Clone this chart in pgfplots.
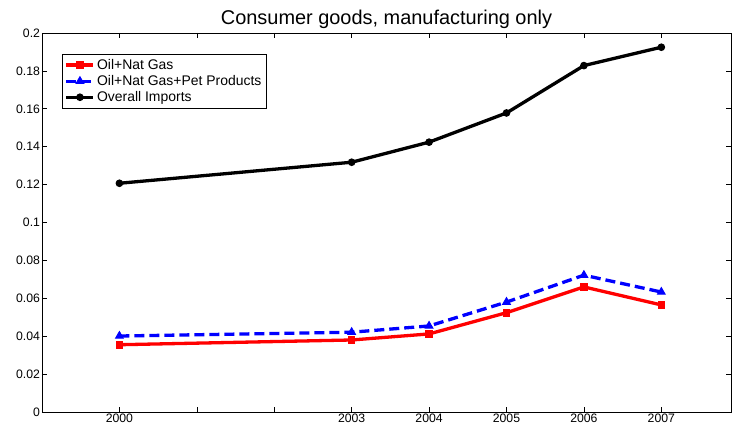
\documentclass[border=0pt]{standalone}
\usepackage{fontspec}
\setmainfont{Liberation Sans}
\usepackage{pgfplots}
\pgfplotsset{compat=1.18}
\begin{document}
\begin{tikzpicture}[x=1bp,y=1bp]
\path[use as bounding box] (-42bp,-22bp) rectangle (691bp,412bp);
\begin{axis}[
  at={(0,0)}, anchor=south west,
  scale only axis, width=689bp, height=379bp,
  xmin=1999, xmax=2007.9, ymin=0, ymax=0.2,
  xtick={2000,2001,2002,2003,2004,2005,2006,2007},
  xticklabels={2000,,,2003,2004,2005,2006,2007},
  ytick={0,0.02,0.04,0.06,0.08,0.1,0.12,0.14,0.16,0.18,0.2},
  yticklabels={0,0.02,0.04,0.06,0.08,0.1,0.12,0.14,0.16,0.18,0.2},
  tick align=inside, major tick length=5bp,
  tick style={black, line width=0.6pt},
  axis line style={line width=0.8pt},
  ticklabel style={font=\fontsize{12.3}{13}\selectfont},
  xticklabel style={yshift=1.5bp},
  yticklabel style={xshift=1.5bp},
  /pgf/number format/assume math mode=true,
  title={Consumer goods, manufacturing only},
  title style={font=\fontsize{20}{22}\selectfont, yshift=-5bp},
  legend style={at={(20bp,358bp)}, anchor=north west, font=\fontsize{14}{15}\selectfont,
    draw=black, line width=0.6pt, inner xsep=2.5pt, inner ysep=3pt, row sep=0.5pt, cells={anchor=west}},
  legend cell align=left,
  legend image code/.code={\draw[mark repeat=2,mark phase=2] plot coordinates {(0bp,0bp) (13.5bp,0bp) (27bp,0bp)};},
]
\addplot[red, line width=3.3bp, mark=square*, mark size=3.3bp, mark options={solid, line width=1bp}] coordinates {
(2000,0.0355) (2003,0.0380) (2004,0.0412) (2005,0.0524) (2006,0.0660) (2007,0.0565)};
\addlegendentry{Oil+Nat Gas}
\addplot[blue, line width=3.3bp, dash pattern=on 10bp off 5bp, mark=triangle*, mark size=4.4bp, mark options={solid, line width=1bp}] coordinates {
(2000,0.0401) (2003,0.0421) (2004,0.0454) (2005,0.0580) (2006,0.0722) (2007,0.0633)};
\addlegendentry{Oil+Nat Gas+Pet Products}
\addplot[black, line width=3.3bp, mark=*, mark size=3.3bp, mark options={line width=1bp}] coordinates {
(2000,0.1207) (2003,0.1318) (2004,0.1424) (2005,0.1578) (2006,0.1828) (2007,0.1925)};
\addlegendentry{Overall Imports}
\end{axis}
\end{tikzpicture}
\end{document}
